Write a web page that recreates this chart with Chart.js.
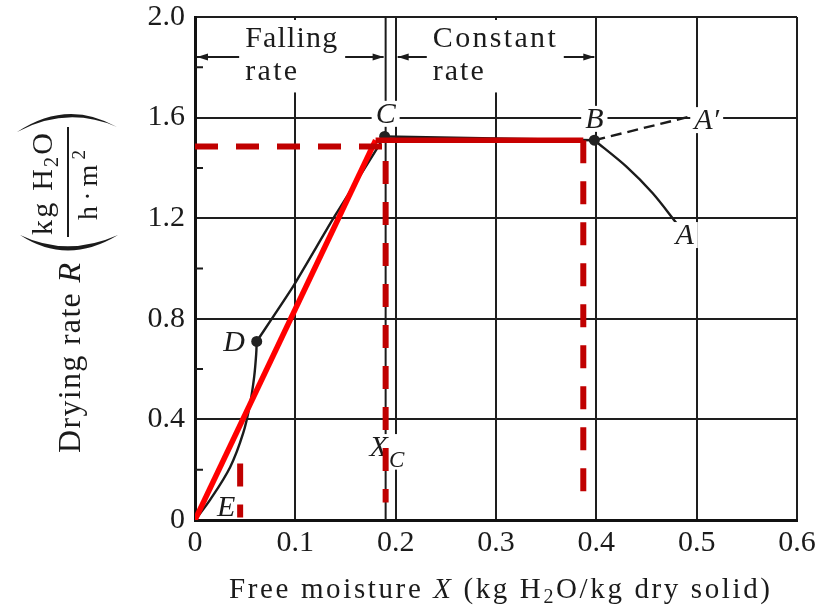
<!DOCTYPE html>
<html>
<head>
<meta charset="utf-8">
<script src="https://cdn.jsdelivr.net/npm/chart.js@4.4.1/dist/chart.umd.min.js"></script>
<style>
  html, body { margin: 0; padding: 0; background: #fff; }
</style>
</head>
<body>
<canvas id="dryingChart" width="830" height="607"></canvas>
<script>
// axis ticks
const xTicks = [0, 0.1, 0.2, 0.3, 0.4, 0.5, 0.6];
const yTicks = [0, 0.4, 0.8, 1.2, 1.6, 2.0];
const yMinorTicks = [0.2, 0.6, 1.0, 1.4, 1.8];

// black drying-rate curve (X in kg H2O/kg, R in kg H2O/h m2)
const fallingX = [0, 0.015, 0.035, 0.048, 0.055, 0.059, 0.061, 0.0615];
const fallingR = [0, 0.08, 0.21, 0.345, 0.465, 0.57, 0.66, 0.71];
const firstFallX = [0.0615, 0.098, 0.138, 0.189];
const firstFallR = [0.71, 0.93, 1.2, 1.525];
const constantX = [0.189, 0.398];
const constantR = [1.525, 1.51];
const warmUpX = [0.398, 0.43, 0.456, 0.48];
const warmUpR = [1.51, 1.405, 1.30, 1.18];
const coolDownX = [0.398, 0.493];
const coolDownR = [1.51, 1.604];
const markX = [0.0615, 0.189, 0.398];   // D, C, B
const markR = [0.71, 1.525, 1.51];
const criticalLineX = [0.19, 0.19];
const criticalLineR = [0, 2.0];

// red overlay
const fitX = [0, 0.18, 0.387];
const fitR = [0, 1.51, 1.51];
const critDashX = [0, 0.19, 0.19];
const critDashR = [1.485, 1.485, 0.07];
const endDashX = [0.387, 0.387];
const endDashR = [1.51, 0.08];
const lowDashX = [0.045, 0.045];
const lowDashR = [0.225, 0.01];

// region arrows across the top
const regionArrowR = 1.841;
const fallingSpan = [0, 0.19];
const constantSpan = [0.2, 0.4];

// letters on the curve
const letterLabels = [
  { text: 'C', x: 0.19, y: 1.615, box: true },
  { text: 'B', x: 0.398, y: 1.595, box: true },
  { text: 'A\u2032', x: 0.51, y: 1.59, box: true },
  { text: 'A', x: 0.488, y: 1.133, box: true },
  { text: 'D', x: 0.039, y: 0.708, box: false },
  { text: 'E', x: 0.031, y: 0.05, box: false }
];

const SERIF = "'Liberation Serif', 'Times New Roman', serif";
const INK = '#1b1b1b';

function pts(xs, ys) {
  return xs.map((x, i) => ({ x: x, y: ys[i] }));
}

function drawRuns(ctx, runs, x, y, target) {
  let w = 0, n = 0;
  runs.forEach(r => {
    ctx.font = r.font;
    for (const ch of r.t) { w += ctx.measureText(ch).width; n++; }
  });
  const gap = target ? (target - w) / Math.max(1, n - 1) : 0;
  let cx = x;
  runs.forEach(r => {
    ctx.font = r.font;
    for (const ch of r.t) {
      ctx.fillText(ch, cx, y + (r.dy || 0));
      cx += ctx.measureText(ch).width + gap;
    }
  });
  return cx - gap;
}

function arrowHead(ctx, x, y, dir) {
  ctx.beginPath();
  ctx.moveTo(x, y);
  ctx.lineTo(x - dir * 11, y - 3.5);
  ctx.lineTo(x - dir * 11, y + 3.5);
  ctx.closePath();
  ctx.fill();
}

function drawRegion(ctx, xs, ys, span, words, textLeft, widths) {
  const yA = ys.getPixelForValue(regionArrowR);
  const x0 = xs.getPixelForValue(span[0]) + 2;
  const x1 = xs.getPixelForValue(span[1]) - 2;
  const tl = xs.getPixelForValue(textLeft);
  const tr = tl + widths[0];
  // blank out the grid behind the words
  ctx.fillStyle = '#fff';
  ctx.fillRect(tl - 5, ys.top + 3, widths[0] + 10, ys.getPixelForValue(1.70) - ys.top - 3);
  ctx.fillStyle = INK;
  ctx.strokeStyle = INK;
  ctx.lineWidth = 1.8;
  ctx.beginPath();
  ctx.moveTo(x0, yA); ctx.lineTo(tl - 6, yA);
  ctx.moveTo(tr + 8, yA); ctx.lineTo(x1, yA);
  ctx.stroke();
  arrowHead(ctx, x0, yA, -1);
  arrowHead(ctx, x1, yA, 1);
  ctx.textAlign = 'left';
  ctx.textBaseline = 'alphabetic';
  drawRuns(ctx, [{ t: words[0], font: '30px ' + SERIF }], tl, yA - 10, widths[0]);
  drawRuns(ctx, [{ t: words[1], font: '30px ' + SERIF }], tl, yA + 23, widths[1]);
}

function drawLabels(chart) {
  const ctx = chart.ctx;
  const xs = chart.scales.x, ys = chart.scales.y;
  ctx.save();
  drawRegion(ctx, xs, ys, fallingSpan, ['Falling', 'rate'], 0.05, [92, 52]);
  drawRegion(ctx, xs, ys, constantSpan, ['Constant', 'rate'], 0.237, [123, 51]);

  ctx.textAlign = 'center';
  ctx.textBaseline = 'middle';
  letterLabels.forEach(l => {
    const px = xs.getPixelForValue(l.x), py = ys.getPixelForValue(l.y);
    ctx.font = 'italic 30px ' + SERIF;
    const w = ctx.measureText(l.text).width;
    if (l.box) {
      ctx.fillStyle = '#fff';
      ctx.fillRect(px - w / 2 - 4, py - 13, w + 8, 26);
    }
    ctx.fillStyle = INK;
    ctx.fillText(l.text, px, py + 1);
  });

  // X_C
  const xx = xs.getPixelForValue(0.183), xy = ys.getPixelForValue(0.29);
  const cx = xs.getPixelForValue(0.201), cy = ys.getPixelForValue(0.24);
  ctx.fillStyle = '#fff';
  ctx.fillRect(xx - 12, xy - 13, cx - xx + 24, cy - xy + 23);
  ctx.fillStyle = INK;
  ctx.font = 'italic 30px ' + SERIF;
  ctx.fillText('X', xx, xy + 1);
  ctx.font = 'italic 23px ' + SERIF;
  ctx.fillText('C', cx, cy + 1);
  ctx.restore();
}

function crescent(ctx, x0, y0, x1, y1, cxp, outerY, innerY) {
  ctx.beginPath();
  ctx.moveTo(x0, y0);
  ctx.quadraticCurveTo(cxp, outerY, x1, y1);
  ctx.quadraticCurveTo(cxp, innerY, x0, y0);
  ctx.fill();
}

function drawTitles(chart) {
  const ctx = chart.ctx;
  ctx.save();
  ctx.fillStyle = INK;
  ctx.strokeStyle = INK;
  ctx.textAlign = 'left';
  ctx.textBaseline = 'alphabetic';

  // x title
  drawRuns(ctx, [
    { t: 'Free moisture ', font: '29px ' + SERIF },
    { t: 'X', font: 'italic 29px ' + SERIF },
    { t: ' (kg H', font: '29px ' + SERIF },
    { t: '2', font: '20px ' + SERIF, dy: 5 },
    { t: 'O/kg dry solid)', font: '29px ' + SERIF }
  ], 229, 598, 541);

  // y title, rotated
  ctx.save();
  ctx.translate(80, 453);
  ctx.rotate(-Math.PI / 2);
  drawRuns(ctx, [
    { t: 'Drying rate ', font: '32px ' + SERIF },
    { t: 'R', font: 'italic 32px ' + SERIF }
  ], 0, 0, 190);
  ctx.restore();

  ctx.save();
  ctx.translate(52, 235);
  ctx.rotate(-Math.PI / 2);
  drawRuns(ctx, [
    { t: 'kg H', font: '30px ' + SERIF },
    { t: '2', font: '20px ' + SERIF, dy: 6 },
    { t: 'O', font: '30px ' + SERIF }
  ], 0, 0, 102);
  ctx.restore();

  ctx.save();
  ctx.translate(97, 220);
  ctx.rotate(-Math.PI / 2);
  drawRuns(ctx, [
    { t: 'h\u00b7m', font: '28px ' + SERIF },
    { t: '2', font: '19px ' + SERIF, dy: -12 }
  ], 0, 0, 70);
  ctx.restore();

  ctx.lineWidth = 2;
  ctx.beginPath();
  ctx.moveTo(68, 127);
  ctx.lineTo(68, 237);
  ctx.stroke();
  crescent(ctx, 17, 132, 117, 127, 67, 98.5, 105.5);
  crescent(ctx, 20, 235, 118, 235, 67, 266, 257.5);
  ctx.restore();
}

const figurePlugin = {
  id: 'figureText',
  beforeDatasetsDraw(chart) {
    chart.$labelsDone = false;
    const ctx = chart.ctx, ys = chart.scales.y, left = chart.chartArea.left;
    ctx.save();
    ctx.strokeStyle = INK;
    ctx.lineWidth = 2;
    ctx.beginPath();
    yMinorTicks.forEach(v => {
      const py = ys.getPixelForValue(v);
      ctx.moveTo(left, py);
      ctx.lineTo(left + 8, py);
    });
    ctx.stroke();
    ctx.restore();
  },
  beforeDatasetDraw(chart, args) {
    const ds = chart.data.datasets[args.index];
    if (ds.overlay && !chart.$labelsDone) {
      drawLabels(chart);
      chart.$labelsDone = true;
    }
  },
  afterDraw(chart) {
    drawTitles(chart);
  }
};

const redDash = {
  overlay: true, showLine: true, borderColor: '#c00000', borderWidth: 6,
  borderDash: [23, 18], borderCapStyle: 'butt', pointRadius: 0, fill: false
};
const blackLine = {
  showLine: true, borderColor: INK, borderWidth: 2.4, pointRadius: 0, fill: false
};

new Chart(document.getElementById('dryingChart'), {
  type: 'scatter',
  data: {
    datasets: [
      Object.assign({}, redDash, { data: pts(critDashX, critDashR) }),
      Object.assign({}, redDash, { data: pts(endDashX, endDashR) }),
      Object.assign({}, redDash, { data: pts(lowDashX, lowDashR) }),
      {
        overlay: true, showLine: true, borderWidth: 5.5, pointRadius: 0, fill: false,
        borderColor: '#ff0000', borderJoinStyle: 'miter',
        segment: { borderColor: c => c.p0DataIndex === 0 ? '#ff0000' : '#c80000' },
        data: pts(fitX, fitR)
      },
      { showLine: false, pointRadius: 5.5, pointBackgroundColor: '#222', pointBorderWidth: 0, data: pts(markX, markR) },
      Object.assign({}, blackLine, { tension: 0.35, data: pts(fallingX, fallingR) }),
      Object.assign({}, blackLine, { tension: 0.15, data: pts(firstFallX, firstFallR) }),
      Object.assign({}, blackLine, { data: pts(constantX, constantR) }),
      Object.assign({}, blackLine, { tension: 0.3, data: pts(warmUpX, warmUpR) }),
      Object.assign({}, blackLine, { borderDash: [11, 6], data: pts(coolDownX, coolDownR) }),
      Object.assign({}, blackLine, { borderWidth: 2, data: pts(criticalLineX, criticalLineR) })
    ]
  },
  options: {
    responsive: false,
    animation: false,
    events: [],
    layout: { padding: { left: 0, right: 33, top: 17, bottom: 0 } },
    plugins: { legend: { display: false }, tooltip: { enabled: false } },
    scales: {
      x: {
        type: 'linear', min: 0, max: 0.6,
        afterBuildTicks: s => { s.ticks = xTicks.map(v => ({ value: v })); },
        afterFit: s => { s.height = 87; s.paddingLeft = 0; s.paddingRight = 0; },
        ticks: {
          padding: 5, color: INK, maxRotation: 0, autoSkip: false,
          font: { family: SERIF, size: 30 },
          callback: v => v === 0 ? '0' : v.toFixed(1)
        },
        grid: { color: '#1e1e1e', lineWidth: 2, drawTicks: false },
        border: { color: '#111', width: 3 }
      },
      y: {
        type: 'linear', min: 0, max: 2.0,
        afterBuildTicks: s => { s.ticks = yTicks.map(v => ({ value: v })); },
        afterFit: s => { s.width = 195; s.paddingTop = 0; s.paddingBottom = 0; },
        ticks: {
          padding: 10, color: INK, autoSkip: false,
          font: { family: SERIF, size: 30 },
          callback: v => v === 0 ? '0' : v.toFixed(1)
        },
        grid: { color: '#1e1e1e', lineWidth: 2, drawTicks: false },
        border: { color: '#111', width: 3 }
      }
    }
  },
  plugins: [figurePlugin]
});
</script>
</body>
</html>
